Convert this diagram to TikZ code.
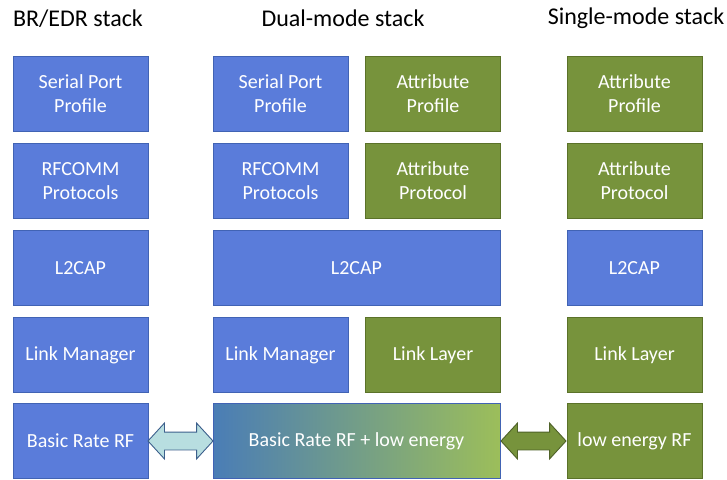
\documentclass[tikz,border=0pt]{standalone}
\usepackage{fontspec}
\setmainfont{Carlito}
\usetikzlibrary{shapes.arrows,calc}
\definecolor{stackblue}{HTML}{5A7CDA}
\definecolor{stackblueline}{HTML}{4163B4}
\definecolor{stackgreen}{HTML}{77933C}
\definecolor{stackgreenline}{HTML}{5B7229}
\definecolor{fadeblue}{HTML}{4A7DB6}
\definecolor{fadegreen}{HTML}{9CBE5A}
\definecolor{arrowcyan}{HTML}{B8DEE0}
\definecolor{arrowcyanline}{HTML}{3C5F8C}
\definecolor{arrowgreenline}{HTML}{4F6228}
\begin{document}
\begin{tikzpicture}[x=1pt,y=-1pt,
        layer/.style={draw,line width=0.8pt,minimum width=135pt,minimum height=75pt,
            inner sep=2pt,align=center,text=white,font=\fontsize{20}{24}\selectfont},
        brlayer/.style={layer,fill=stackblue,draw=stackblueline},
        lelayer/.style={layer,fill=stackgreen,draw=stackgreenline},
        title/.style={font=\fontsize{24}{27}\selectfont},
        linkarrow/.style={double arrow,line width=0.9pt,inner xsep=0pt,inner ysep=8.5pt,
            double arrow head extend=9pt,double arrow tip angle=95,minimum height=65pt}]
        \useasboundingbox[fill=white] (0,0) rectangle (727,479);
        % titles
        \node[title] (brtitle) at (78,18.5) {BR/EDR stack};
        \node[title] (dmtitle) at (343,18.5) {Dual-mode stack};
        \node[title] (smtitle) at (636,18.5) {Single-mode stack};
        % BR/EDR stack
        \node[brlayer] (brspp) at (80.5,93.5) {Serial Port\\Profile};
        \node[brlayer] (brrfc) at (80.5,181) {RFCOMM\\Protocols};
        \node[brlayer] (brl2) at (80.5,268) {L2CAP};
        \node[brlayer] (brlm) at (80.5,355) {Link Manager};
        \node[brlayer] (brrf) at (80.5,441) {Basic Rate RF};
        % dual-mode stack
        \node[brlayer] (dmspp) at (280.5,93.5) {Serial Port\\Profile};
        \node[lelayer] (dmattp) at (433,93.5) {Attribute\\Profile};
        \node[brlayer] (dmrfc) at (280.5,181) {RFCOMM\\Protocols};
        \node[lelayer] (dmatt) at (433,181) {Attribute\\Protocol};
        \node[brlayer,minimum width=287pt] (dml2) at (356.5,268) {L2CAP};
        \node[brlayer] (dmlm) at (280.5,355) {Link Manager};
        \node[lelayer] (dmll) at (433,355) {Link Layer};
        \node[layer,minimum width=287pt,left color=fadeblue,right color=fadegreen,
            draw=stackblueline] (dmrf) at (356.5,441) {Basic Rate RF + low energy};
        % single-mode stack
        \node[lelayer] (smattp) at (634.5,93.5) {Attribute\\Profile};
        \node[lelayer] (smatt) at (634.5,181) {Attribute\\Protocol};
        \node[brlayer] (sml2) at (634.5,268) {L2CAP};
        \node[lelayer] (smll) at (634.5,355) {Link Layer};
        \node[lelayer] (smrf) at (634.5,441) {low energy RF};
        % radio links
        \node[linkarrow,fill=arrowcyan,draw=arrowcyanline] (brlink)
            at ($(brrf.east)!0.5!(dmrf.west)$) {};
        \node[linkarrow,fill=stackgreen,draw=arrowgreenline] (lelink)
            at ($(dmrf.east)!0.5!(smrf.west)$) {};
    \end{tikzpicture}
\end{document}
